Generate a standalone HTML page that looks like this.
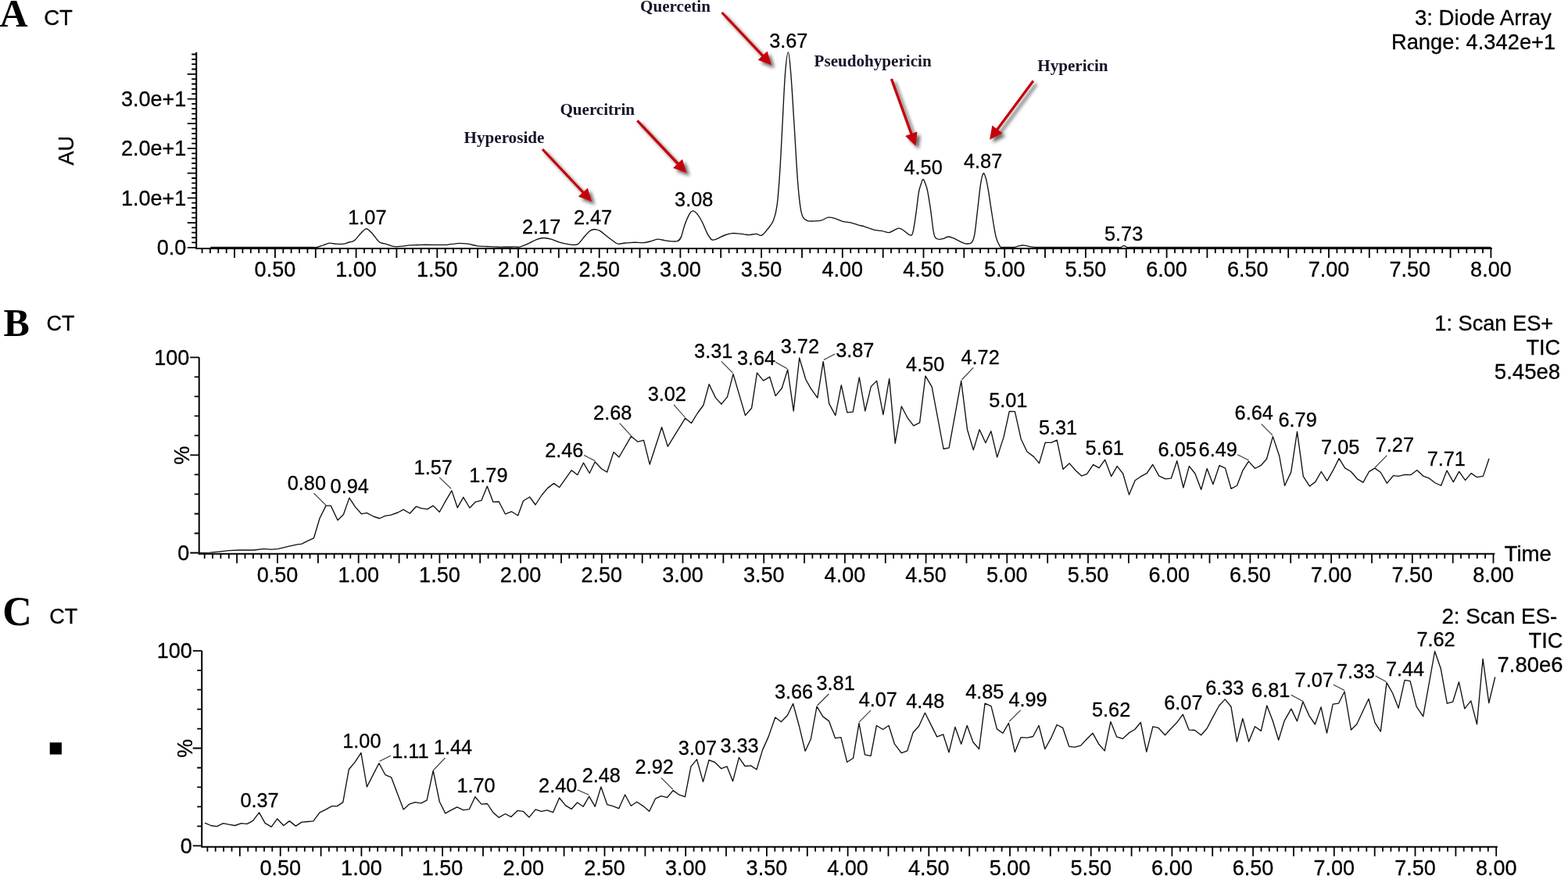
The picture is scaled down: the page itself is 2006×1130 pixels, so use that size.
<!DOCTYPE html>
<html><head><meta charset="utf-8"><title>Chromatograms</title>
<style>html,body{margin:0;padding:0;background:#fff;overflow:hidden}svg{display:block}</style>
</head><body>
<svg width="2006" height="1130" viewBox="0 0 2006 1130">
<defs><filter id="sh" x="-20%" y="-20%" width="150%" height="150%">
<feGaussianBlur in="SourceAlpha" stdDeviation="2.2"/><feOffset dx="3.5" dy="3.5" result="b"/>
<feComponentTransfer><feFuncA type="linear" slope="0.6"/></feComponentTransfer>
<feMerge><feMergeNode/><feMergeNode in="SourceGraphic"/></feMerge></filter></defs>
<style>
.s{font-family:'Liberation Sans',Arial,Helvetica,sans-serif;fill:#000;stroke:#000;stroke-width:0.3px}
.b{font-family:'Liberation Serif','Times New Roman',serif;font-weight:bold;fill:#000}
.n{font-family:'Liberation Serif','Times New Roman',serif;font-weight:bold;fill:#14142a}
.m{text-anchor:middle} .e{text-anchor:end}
</style>
<rect width="2006" height="1130" fill="#fff"/>
<path d="M251.2 66.8V317.9H1909" fill="none" stroke="#000" stroke-width="2.0"/>
<path d="M258.6 317.9L258.6 323.9M268.9 317.9L268.9 323.9M279.3 317.9L279.3 323.9M289.7 317.9L289.7 323.9M300 317.9L300 329.9M310.4 317.9L310.4 323.9M320.8 317.9L320.8 323.9M331.2 317.9L331.2 323.9M341.5 317.9L341.5 323.9M351.9 317.9L351.9 329.9M362.3 317.9L362.3 323.9M372.6 317.9L372.6 323.9M383 317.9L383 323.9M393.4 317.9L393.4 323.9M403.8 317.9L403.8 329.9M414.1 317.9L414.1 323.9M424.5 317.9L424.5 323.9M434.9 317.9L434.9 323.9M445.2 317.9L445.2 323.9M455.6 317.9L455.6 329.9M466 317.9L466 323.9M476.3 317.9L476.3 323.9M486.7 317.9L486.7 323.9M497.1 317.9L497.1 323.9M507.4 317.9L507.4 329.9M517.8 317.9L517.8 323.9M528.2 317.9L528.2 323.9M538.6 317.9L538.6 323.9M548.9 317.9L548.9 323.9M559.3 317.9L559.3 329.9M569.7 317.9L569.7 323.9M580 317.9L580 323.9M590.4 317.9L590.4 323.9M600.8 317.9L600.8 323.9M611.1 317.9L611.1 329.9M621.5 317.9L621.5 323.9M631.9 317.9L631.9 323.9M642.3 317.9L642.3 323.9M652.6 317.9L652.6 323.9M663 317.9L663 329.9M673.4 317.9L673.4 323.9M683.7 317.9L683.7 323.9M694.1 317.9L694.1 323.9M704.5 317.9L704.5 323.9M714.8 317.9L714.8 329.9M725.2 317.9L725.2 323.9M735.6 317.9L735.6 323.9M746 317.9L746 323.9M756.3 317.9L756.3 323.9M766.7 317.9L766.7 329.9M777.1 317.9L777.1 323.9M787.4 317.9L787.4 323.9M797.8 317.9L797.8 323.9M808.2 317.9L808.2 323.9M818.5 317.9L818.5 329.9M828.9 317.9L828.9 323.9M839.3 317.9L839.3 323.9M849.7 317.9L849.7 323.9M860 317.9L860 323.9M870.4 317.9L870.4 329.9M880.8 317.9L880.8 323.9M891.1 317.9L891.1 323.9M901.5 317.9L901.5 323.9M911.9 317.9L911.9 323.9M922.2 317.9L922.2 329.9M932.6 317.9L932.6 323.9M943 317.9L943 323.9M953.4 317.9L953.4 323.9M963.7 317.9L963.7 323.9M974.1 317.9L974.1 329.9M984.5 317.9L984.5 323.9M994.8 317.9L994.8 323.9M1005.2 317.9L1005.2 323.9M1015.6 317.9L1015.6 323.9M1026 317.9L1026 329.9M1036.3 317.9L1036.3 323.9M1046.7 317.9L1046.7 323.9M1057.1 317.9L1057.1 323.9M1067.4 317.9L1067.4 323.9M1077.8 317.9L1077.8 329.9M1088.2 317.9L1088.2 323.9M1098.5 317.9L1098.5 323.9M1108.9 317.9L1108.9 323.9M1119.3 317.9L1119.3 323.9M1129.7 317.9L1129.7 329.9M1140 317.9L1140 323.9M1150.4 317.9L1150.4 323.9M1160.8 317.9L1160.8 323.9M1171.1 317.9L1171.1 323.9M1181.5 317.9L1181.5 329.9M1191.9 317.9L1191.9 323.9M1202.2 317.9L1202.2 323.9M1212.6 317.9L1212.6 323.9M1223 317.9L1223 323.9M1233.3 317.9L1233.3 329.9M1243.7 317.9L1243.7 323.9M1254.1 317.9L1254.1 323.9M1264.5 317.9L1264.5 323.9M1274.8 317.9L1274.8 323.9M1285.2 317.9L1285.2 329.9M1295.6 317.9L1295.6 323.9M1305.9 317.9L1305.9 323.9M1316.3 317.9L1316.3 323.9M1326.7 317.9L1326.7 323.9M1337 317.9L1337 329.9M1347.4 317.9L1347.4 323.9M1357.8 317.9L1357.8 323.9M1368.2 317.9L1368.2 323.9M1378.5 317.9L1378.5 323.9M1388.9 317.9L1388.9 329.9M1399.3 317.9L1399.3 323.9M1409.6 317.9L1409.6 323.9M1420 317.9L1420 323.9M1430.4 317.9L1430.4 323.9M1440.8 317.9L1440.8 329.9M1451.1 317.9L1451.1 323.9M1461.5 317.9L1461.5 323.9M1471.9 317.9L1471.9 323.9M1482.2 317.9L1482.2 323.9M1492.6 317.9L1492.6 329.9M1503 317.9L1503 323.9M1513.3 317.9L1513.3 323.9M1523.7 317.9L1523.7 323.9M1534.1 317.9L1534.1 323.9M1544.4 317.9L1544.4 329.9M1554.8 317.9L1554.8 323.9M1565.2 317.9L1565.2 323.9M1575.6 317.9L1575.6 323.9M1585.9 317.9L1585.9 323.9M1596.3 317.9L1596.3 329.9M1606.7 317.9L1606.7 323.9M1617 317.9L1617 323.9M1627.4 317.9L1627.4 323.9M1637.8 317.9L1637.8 323.9M1648.2 317.9L1648.2 329.9M1658.5 317.9L1658.5 323.9M1668.9 317.9L1668.9 323.9M1679.3 317.9L1679.3 323.9M1689.6 317.9L1689.6 323.9M1700 317.9L1700 329.9M1710.4 317.9L1710.4 323.9M1720.7 317.9L1720.7 323.9M1731.1 317.9L1731.1 323.9M1741.5 317.9L1741.5 323.9M1751.8 317.9L1751.8 329.9M1762.2 317.9L1762.2 323.9M1772.6 317.9L1772.6 323.9M1783 317.9L1783 323.9M1793.3 317.9L1793.3 323.9M1803.7 317.9L1803.7 329.9M1814.1 317.9L1814.1 323.9M1824.4 317.9L1824.4 323.9M1834.8 317.9L1834.8 323.9M1845.2 317.9L1845.2 323.9M1855.6 317.9L1855.6 329.9M1865.9 317.9L1865.9 323.9M1876.3 317.9L1876.3 323.9M1886.7 317.9L1886.7 323.9M1897 317.9L1897 323.9M1907.4 317.9L1907.4 329.9M239.7 316.8L251.2 316.8M245.2 310.4L251.2 310.4M245.2 304.1L251.2 304.1M245.2 297.7L251.2 297.7M245.2 291.4L251.2 291.4M239.7 285.1L251.2 285.1M245.2 278.7L251.2 278.7M245.2 272.4L251.2 272.4M245.2 266L251.2 266M245.2 259.7L251.2 259.7M239.7 253.3L251.2 253.3M245.2 247L251.2 247M245.2 240.7L251.2 240.7M245.2 234.3L251.2 234.3M245.2 228L251.2 228M239.7 221.7L251.2 221.7M245.2 215.3L251.2 215.3M245.2 209L251.2 209M245.2 202.6L251.2 202.6M245.2 196.3L251.2 196.3M239.7 189.9L251.2 189.9M245.2 183.6L251.2 183.6M245.2 177.3L251.2 177.3M245.2 170.9L251.2 170.9M245.2 164.6L251.2 164.6M239.7 158.2L251.2 158.2M245.2 151.9L251.2 151.9M245.2 145.6L251.2 145.6M245.2 139.2L251.2 139.2M245.2 132.9L251.2 132.9M239.7 126.6L251.2 126.6M245.2 120.2L251.2 120.2M245.2 113.9L251.2 113.9M245.2 107.5L251.2 107.5M245.2 101.2L251.2 101.2M239.7 94.8L251.2 94.8M245.2 88.5L251.2 88.5M245.2 82.2L251.2 82.2M245.2 75.8L251.2 75.8M245.2 69.5L251.2 69.5" stroke="#000" stroke-width="1.8" fill="none"/>
<text x="351.9" y="354.3" font-size="27" class="s m">0.50</text>
<text x="455.6" y="354.3" font-size="27" class="s m">1.00</text>
<text x="559.3" y="354.3" font-size="27" class="s m">1.50</text>
<text x="663" y="354.3" font-size="27" class="s m">2.00</text>
<text x="766.7" y="354.3" font-size="27" class="s m">2.50</text>
<text x="870.4" y="354.3" font-size="27" class="s m">3.00</text>
<text x="974.1" y="354.3" font-size="27" class="s m">3.50</text>
<text x="1077.8" y="354.3" font-size="27" class="s m">4.00</text>
<text x="1181.5" y="354.3" font-size="27" class="s m">4.50</text>
<text x="1285.2" y="354.3" font-size="27" class="s m">5.00</text>
<text x="1388.9" y="354.3" font-size="27" class="s m">5.50</text>
<text x="1492.6" y="354.3" font-size="27" class="s m">6.00</text>
<text x="1596.3" y="354.3" font-size="27" class="s m">6.50</text>
<text x="1700" y="354.3" font-size="27" class="s m">7.00</text>
<text x="1803.7" y="354.3" font-size="27" class="s m">7.50</text>
<text x="1907.4" y="354.3" font-size="27" class="s m">8.00</text>
<text x="238.4" y="326.2" font-size="27" class="s e">0.0</text>
<text x="238.4" y="262.9" font-size="27" class="s e">1.0e+1</text>
<text x="238.4" y="199.4" font-size="27" class="s e">2.0e+1</text>
<text x="238.4" y="136.1" font-size="27" class="s e">3.0e+1</text>
<path d="M269.9 316.4C270.9 316.4 274 316.4 276.1 316.4C278.1 316.4 280.2 316.4 282.2 316.4C284.3 316.4 286.3 316.4 288.4 316.4C290.4 316.4 292.5 316.4 294.6 316.4C296.6 316.4 298.7 316.4 300.7 316.4C302.8 316.4 304.8 316.4 306.9 316.4C308.9 316.4 311 316.4 313 316.4C315.1 316.4 317.2 316.4 319.2 316.4C321.3 316.4 323.3 316.4 325.4 316.4C327.4 316.4 329.5 316.4 331.5 316.4C333.6 316.4 335.6 316.4 337.7 316.4C339.8 316.4 341.8 316.4 343.9 316.4C345.9 316.4 348 316.4 350 316.4C352.1 316.4 354.1 316.4 356.2 316.4C358.2 316.4 360.3 316.4 362.4 316.4C364.4 316.4 366.5 316.4 368.5 316.4C370.6 316.4 372.6 316.4 374.7 316.4C376.7 316.4 378.8 316.4 380.8 316.4C382.9 316.4 385 316.4 387 316.4C389.1 316.4 391.1 316.4 393.2 316.4C395.2 316.4 397.3 316.4 399.3 316.4C401.4 316.4 403.1 316.8 405.5 316.4C407.9 316 410.8 314.7 413.5 313.8C416.2 312.9 418.8 311.5 421.5 311.2C424.2 310.9 426.5 312 429.5 312.2C432.5 312.4 436.6 312.6 439.4 312.2C442.2 311.8 444.1 310.7 446.4 310C448.7 309.3 450.9 309.7 453.4 307.8C455.9 305.9 458.9 301.3 461.4 298.8C463.9 296.3 466.1 293 468.4 292.8C470.7 292.6 472.5 295 475.3 297.8C478.1 300.6 482.5 307.5 485.3 309.8C488.1 312.1 490.3 311.2 492.3 311.8C494.3 312.4 495.3 312.8 497.3 313.4C499.3 314 501.2 315.1 504.2 315.4C507.2 315.7 512 315.5 515.2 315.2C518.4 314.9 520.7 314.1 523.2 313.8C525.8 313.5 528.1 313.7 530.5 313.6C532.9 313.5 535.4 313.5 537.8 313.4C540.2 313.3 542.6 313.2 545.1 313.2C547.6 313.2 550.4 313.2 553.1 313.3C555.7 313.3 558.4 313.3 561 313.3C563.7 313.4 566.7 313.5 569 313.4C571.3 313.3 573 313 575 312.7C577 312.5 579 312.3 581 312.1C583 311.8 584 311.4 587 311.4C590 311.4 595 311.6 599 312.2C603 312.8 607.2 314.3 610.9 314.8C614.5 315.3 618.2 315.3 620.9 315.4C623.6 315.5 625.1 315.6 627.3 315.6C629.4 315.7 631.5 315.8 633.6 315.9C635.8 315.9 637.9 316.1 640 316.1C642.1 316.1 644.2 316.1 646.4 316C648.5 316 650.6 316 652.8 316C654.9 315.9 657 315.9 659.1 315.9C661.2 315.9 662.8 316.4 665.5 315.8C668.2 315.2 671.6 313.6 675.1 312.1C678.6 310.6 682.8 307.9 686.3 306.6C689.8 305.3 692.6 304.6 695.8 304.5C699 304.4 702.2 305.3 705.4 306.2C708.6 307.1 711.8 308.8 715 309.8C718.2 310.8 721 311.5 724.5 312.1C728 312.7 733 313.4 735.7 313.3C738.4 313.2 738.4 313.3 740.5 311.4C742.6 309.5 746.1 304.5 748.5 301.8C750.9 299.1 752.9 296.8 754.9 295.4C756.9 294 758.3 293.5 760.4 293.5C762.5 293.5 765.1 294 767.6 295.4C770.1 296.8 772.7 299.5 775.6 301.8C778.5 304.1 782.7 307.3 785.2 309C787.7 310.7 788.3 311.8 790.7 312.1C793.1 312.4 797 311.2 799.5 311C802 310.8 803.8 310.7 805.9 310.6C808 310.5 809.4 310.2 812.3 310.2C815.2 310.2 820.2 310.8 823.4 310.6C826.6 310.4 828.5 309.7 831.4 309C834.3 308.3 838.3 306.5 841 306.2C843.7 305.9 845 306.6 847.4 307C849.8 307.4 852.1 308.2 855.3 308.5C858.5 308.8 863.8 309.5 866.5 308.6C869.2 307.8 869.7 306.9 871.3 303.4C872.9 299.9 874.2 292.4 876.1 287.4C878 282.3 880.8 276 882.5 273.1C884.2 270.2 884.9 269.8 886.5 269.9C888.1 270 890 271.5 892 273.9C894 276.3 896.3 280.1 898.4 284.2C900.5 288.3 902.8 294.9 904.8 298.6C906.8 302.3 908.5 305.3 910.4 306.6C912.3 307.9 913.2 307.1 916 306.2C918.8 305.3 923.6 302.3 927.1 301C930.6 299.7 933.5 298.9 936.7 298.6C939.9 298.3 943.7 298.9 946.3 299.1C948.9 299.3 950.3 299.6 952.3 299.9C954.4 300.1 955.9 300.7 958.4 300.6C960.9 300.5 964.9 299.3 967.6 299.4C970.3 299.5 972 302.3 974.5 301.2C977 300.1 980.1 295.7 982.6 292.5C985.1 289.3 987.6 287.1 989.5 282.1C991.4 277.1 992.8 272.8 994.1 262.6C995.5 252.4 996.5 238.4 997.6 221.1C998.8 203.8 999.9 180.1 1001 159C1002.1 137.9 1003.3 109.8 1004.5 94.5C1005.7 79.2 1007.2 66.9 1008.4 66.9C1009.6 66.9 1010.5 79.2 1011.8 94.5C1013.1 109.8 1014.5 136 1016 159C1017.5 182 1019.1 213.9 1020.6 232.7C1022.1 251.5 1023.3 263.6 1025.2 271.8C1027.1 280 1029.4 280.3 1032.1 282.1C1034.8 283.9 1038.2 282.8 1041.3 282.8C1044.4 282.8 1047.4 282.9 1050.5 282.1C1053.6 281.3 1056.6 278.6 1059.7 278.2C1062.8 277.8 1065.8 278.9 1068.9 279.8C1072 280.7 1074.6 282.4 1078.1 283.3C1081.6 284.2 1086.7 284.5 1090 285.3C1093.3 286.1 1095.2 287.1 1097.8 287.9C1100.4 288.6 1103.2 289.1 1105.6 289.8C1108 290.5 1109.9 291.3 1112 292.1C1114.2 292.8 1115.7 293.7 1118.5 294.3C1121.3 294.9 1125.8 295.1 1128.9 295.6C1132 296.2 1134.7 297.8 1137.3 297.6C1139.9 297.4 1142.2 295.2 1144.4 294.3C1146.6 293.4 1148.3 292 1150.3 292.1C1152.2 292.2 1153.8 293.6 1156.1 295C1158.4 296.4 1162 300.4 1163.9 300.8C1165.9 301.2 1166.5 302 1167.8 297.6C1169.1 293.2 1170.4 283 1171.7 274.3C1173 265.6 1174.3 252.4 1175.5 245.7C1176.7 239 1177.9 236.8 1178.8 234.1C1179.7 231.4 1180.2 229.3 1181.1 229.5C1182 229.7 1183.1 232.9 1184 235.4C1184.9 237.9 1185.5 239 1186.6 244.4C1187.7 249.8 1189.1 258.5 1190.5 267.8C1191.9 277.1 1193.4 293.8 1195 300.2C1196.6 306.6 1198.2 305.1 1200.2 306C1202.2 306.9 1204.6 305.9 1206.7 305.4C1208.8 304.9 1210.9 303.1 1213.1 303C1215.2 302.9 1217.2 303.8 1219.6 304.7C1222 305.6 1224.8 307.4 1227.4 308.6C1230 309.8 1232.6 311.5 1235.2 311.8C1237.8 312.1 1241.1 312.4 1243 310.5C1244.9 308.6 1245.5 307.3 1246.8 300.2C1248.1 293.1 1249.4 278.6 1250.7 267.8C1252 257 1253.4 243 1254.6 235.4C1255.8 227.8 1256.8 223.4 1257.9 222.1C1259 220.8 1260 224.1 1261.1 227.6C1262.2 231.1 1263 235.5 1264.3 243.1C1265.6 250.7 1267.3 263.1 1268.9 273C1270.5 282.9 1272.4 295.8 1274.1 302.8C1275.8 309.8 1277.9 312.8 1279.2 315.1C1280.5 317.4 1280.1 316.2 1281.8 316.4C1283.5 316.6 1287 316.4 1289.6 316.4C1292.2 316.4 1295 316.7 1297.4 316.4C1299.8 316.1 1302 315.1 1303.9 314.7C1305.9 314.3 1307.2 313.7 1309.1 313.8C1311 313.9 1313.1 314.7 1315.5 315.1C1317.9 315.5 1321 316.2 1323.3 316.4C1325.6 316.6 1327.4 316.4 1329.5 316.4C1331.5 316.4 1333.5 316.4 1335.6 316.4C1337.6 316.4 1339.7 316.4 1341.8 316.4C1343.8 316.4 1345.8 316.4 1347.9 316.4C1349.9 316.4 1352 316.4 1354 316.4C1356.1 316.4 1358.2 316.4 1360.2 316.4C1362.2 316.4 1364.3 316.4 1366.3 316.4C1368.4 316.4 1370.5 316.4 1372.5 316.4C1374.5 316.4 1376.6 316.4 1378.7 316.4C1380.7 316.4 1382.8 316.4 1384.8 316.4C1386.8 316.4 1388.9 316.4 1391 316.4C1393 316.4 1395 316.4 1397.1 316.4C1399.1 316.4 1401.2 316.4 1403.2 316.4C1405.3 316.4 1407.4 316.4 1409.4 316.4C1411.5 316.4 1413.5 316.4 1415.5 316.4C1417.6 316.4 1419.7 316.4 1421.7 316.4C1423.8 316.4 1425.8 316.4 1427.8 316.4C1429.9 316.4 1432.3 316.8 1434 316.4C1435.7 316 1436.6 314.3 1437.9 314.3C1439.2 314.3 1440.1 316 1441.7 316.4C1443.3 316.8 1445.7 316.4 1447.7 316.4C1449.8 316.4 1451.8 316.4 1453.8 316.4C1455.8 316.4 1457.8 316.4 1459.8 316.4C1461.8 316.4 1463.9 316.4 1465.9 316.4C1467.9 316.4 1469.9 316.4 1471.9 316.4C1473.9 316.4 1475.9 316.4 1478 316.4C1480 316.4 1482 316.4 1484 316.4C1486 316.4 1488 316.4 1490 316.4C1492.1 316.4 1494.1 316.4 1496.1 316.4C1498.1 316.4 1500.1 316.4 1502.1 316.4C1504.1 316.4 1506.2 316.4 1508.2 316.4C1510.2 316.4 1512.2 316.4 1514.2 316.4C1516.2 316.4 1518.2 316.4 1520.3 316.4C1522.3 316.4 1524.3 316.4 1526.3 316.4C1528.3 316.4 1530.3 316.4 1532.3 316.4C1534.4 316.4 1536.4 316.4 1538.4 316.4C1540.4 316.4 1542.4 316.4 1544.4 316.4C1546.4 316.4 1548.5 316.4 1550.5 316.4C1552.5 316.4 1554.5 316.4 1556.5 316.4C1558.5 316.4 1560.5 316.4 1562.6 316.4C1564.6 316.4 1566.6 316.4 1568.6 316.4C1570.6 316.4 1572.6 316.4 1574.6 316.4C1576.7 316.4 1578.7 316.4 1580.7 316.4C1582.7 316.4 1584.7 316.4 1586.7 316.4C1588.7 316.4 1590.8 316.4 1592.8 316.4C1594.8 316.4 1596.8 316.4 1598.8 316.4C1600.8 316.4 1602.8 316.4 1604.9 316.4C1606.9 316.4 1608.9 316.4 1610.9 316.4C1612.9 316.4 1614.9 316.4 1616.9 316.4C1619 316.4 1621 316.4 1623 316.4C1625 316.4 1627 316.4 1629 316.4C1631 316.4 1633.1 316.4 1635.1 316.4C1637.1 316.4 1639.1 316.4 1641.1 316.4C1643.1 316.4 1645.1 316.4 1647.2 316.4C1649.2 316.4 1651.2 316.4 1653.2 316.4C1655.2 316.4 1657.2 316.4 1659.2 316.4C1661.3 316.4 1663.3 316.4 1665.3 316.4C1667.3 316.4 1669.3 316.4 1671.3 316.4C1673.3 316.4 1675.4 316.4 1677.4 316.4C1679.4 316.4 1681.4 316.4 1683.4 316.4C1685.4 316.4 1687.4 316.4 1689.5 316.4C1691.5 316.4 1693.5 316.4 1695.5 316.4C1697.5 316.4 1699.5 316.4 1701.5 316.4C1703.6 316.4 1705.6 316.4 1707.6 316.4C1709.6 316.4 1711.6 316.4 1713.6 316.4C1715.6 316.4 1717.7 316.4 1719.7 316.4C1721.7 316.4 1723.7 316.4 1725.7 316.4C1727.7 316.4 1729.7 316.4 1731.8 316.4C1733.8 316.4 1735.8 316.4 1737.8 316.4C1739.8 316.4 1741.8 316.4 1743.8 316.4C1745.9 316.4 1747.9 316.4 1749.9 316.4C1751.9 316.4 1753.9 316.4 1755.9 316.4C1757.9 316.4 1760 316.4 1762 316.4C1764 316.4 1766 316.4 1768 316.4C1770 316.4 1772 316.4 1774.1 316.4C1776.1 316.4 1778.1 316.4 1780.1 316.4C1782.1 316.4 1784.1 316.4 1786.1 316.4C1788.2 316.4 1790.2 316.4 1792.2 316.4C1794.2 316.4 1796.2 316.4 1798.2 316.4C1800.2 316.4 1802.3 316.4 1804.3 316.4C1806.3 316.4 1808.3 316.4 1810.3 316.4C1812.3 316.4 1814.3 316.4 1816.4 316.4C1818.4 316.4 1820.4 316.4 1822.4 316.4C1824.4 316.4 1826.4 316.4 1828.4 316.4C1830.5 316.4 1832.5 316.4 1834.5 316.4C1836.5 316.4 1838.5 316.4 1840.5 316.4C1842.5 316.4 1844.6 316.4 1846.6 316.4C1848.6 316.4 1850.6 316.4 1852.6 316.4C1854.6 316.4 1856.6 316.4 1858.7 316.4C1860.7 316.4 1862.7 316.4 1864.7 316.4C1866.7 316.4 1868.7 316.4 1870.7 316.4C1872.8 316.4 1874.8 316.4 1876.8 316.4C1878.8 316.4 1880.8 316.4 1882.8 316.4C1884.8 316.4 1886.9 316.4 1888.9 316.4C1890.9 316.4 1892.9 316.4 1894.9 316.4C1896.9 316.4 1898.9 316.4 1901 316.4C1903 316.4 1906 316.4 1907 316.4" fill="none" stroke="#111" stroke-width="1.35" stroke-linejoin="round" stroke-linecap="round"/>
<path d="M254.7 457.3V708.8H1912.4" fill="none" stroke="#000" stroke-width="2.0"/>
<path d="M261.7 708.8L261.7 714.8M272 708.8L272 714.8M282.4 708.8L282.4 714.8M292.8 708.8L292.8 714.8M303.1 708.8L303.1 720.8M313.5 708.8L313.5 714.8M323.9 708.8L323.9 714.8M334.3 708.8L334.3 714.8M344.6 708.8L344.6 714.8M355 708.8L355 720.8M365.4 708.8L365.4 714.8M375.7 708.8L375.7 714.8M386.1 708.8L386.1 714.8M396.5 708.8L396.5 714.8M406.9 708.8L406.9 720.8M417.2 708.8L417.2 714.8M427.6 708.8L427.6 714.8M438 708.8L438 714.8M448.3 708.8L448.3 714.8M458.7 708.8L458.7 720.8M469.1 708.8L469.1 714.8M479.4 708.8L479.4 714.8M489.8 708.8L489.8 714.8M500.2 708.8L500.2 714.8M510.6 708.8L510.6 720.8M520.9 708.8L520.9 714.8M531.3 708.8L531.3 714.8M541.7 708.8L541.7 714.8M552 708.8L552 714.8M562.4 708.8L562.4 720.8M572.8 708.8L572.8 714.8M583.1 708.8L583.1 714.8M593.5 708.8L593.5 714.8M603.9 708.8L603.9 714.8M614.2 708.8L614.2 720.8M624.6 708.8L624.6 714.8M635 708.8L635 714.8M645.4 708.8L645.4 714.8M655.7 708.8L655.7 714.8M666.1 708.8L666.1 720.8M676.5 708.8L676.5 714.8M686.8 708.8L686.8 714.8M697.2 708.8L697.2 714.8M707.6 708.8L707.6 714.8M718 708.8L718 720.8M728.3 708.8L728.3 714.8M738.7 708.8L738.7 714.8M749.1 708.8L749.1 714.8M759.4 708.8L759.4 714.8M769.8 708.8L769.8 720.8M780.2 708.8L780.2 714.8M790.5 708.8L790.5 714.8M800.9 708.8L800.9 714.8M811.3 708.8L811.3 714.8M821.7 708.8L821.7 720.8M832 708.8L832 714.8M842.4 708.8L842.4 714.8M852.8 708.8L852.8 714.8M863.1 708.8L863.1 714.8M873.5 708.8L873.5 720.8M883.9 708.8L883.9 714.8M894.2 708.8L894.2 714.8M904.6 708.8L904.6 714.8M915 708.8L915 714.8M925.4 708.8L925.4 720.8M935.7 708.8L935.7 714.8M946.1 708.8L946.1 714.8M956.5 708.8L956.5 714.8M966.8 708.8L966.8 714.8M977.2 708.8L977.2 720.8M987.6 708.8L987.6 714.8M997.9 708.8L997.9 714.8M1008.3 708.8L1008.3 714.8M1018.7 708.8L1018.7 714.8M1029.1 708.8L1029.1 720.8M1039.4 708.8L1039.4 714.8M1049.8 708.8L1049.8 714.8M1060.2 708.8L1060.2 714.8M1070.5 708.8L1070.5 714.8M1080.9 708.8L1080.9 720.8M1091.3 708.8L1091.3 714.8M1101.6 708.8L1101.6 714.8M1112 708.8L1112 714.8M1122.4 708.8L1122.4 714.8M1132.8 708.8L1132.8 720.8M1143.1 708.8L1143.1 714.8M1153.5 708.8L1153.5 714.8M1163.9 708.8L1163.9 714.8M1174.2 708.8L1174.2 714.8M1184.6 708.8L1184.6 720.8M1195 708.8L1195 714.8M1205.3 708.8L1205.3 714.8M1215.7 708.8L1215.7 714.8M1226.1 708.8L1226.1 714.8M1236.5 708.8L1236.5 720.8M1246.8 708.8L1246.8 714.8M1257.2 708.8L1257.2 714.8M1267.6 708.8L1267.6 714.8M1277.9 708.8L1277.9 714.8M1288.3 708.8L1288.3 720.8M1298.7 708.8L1298.7 714.8M1309 708.8L1309 714.8M1319.4 708.8L1319.4 714.8M1329.8 708.8L1329.8 714.8M1340.2 708.8L1340.2 720.8M1350.5 708.8L1350.5 714.8M1360.9 708.8L1360.9 714.8M1371.3 708.8L1371.3 714.8M1381.6 708.8L1381.6 714.8M1392 708.8L1392 720.8M1402.4 708.8L1402.4 714.8M1412.7 708.8L1412.7 714.8M1423.1 708.8L1423.1 714.8M1433.5 708.8L1433.5 714.8M1443.9 708.8L1443.9 720.8M1454.2 708.8L1454.2 714.8M1464.6 708.8L1464.6 714.8M1475 708.8L1475 714.8M1485.3 708.8L1485.3 714.8M1495.7 708.8L1495.7 720.8M1506.1 708.8L1506.1 714.8M1516.4 708.8L1516.4 714.8M1526.8 708.8L1526.8 714.8M1537.2 708.8L1537.2 714.8M1547.5 708.8L1547.5 720.8M1557.9 708.8L1557.9 714.8M1568.3 708.8L1568.3 714.8M1578.7 708.8L1578.7 714.8M1589 708.8L1589 714.8M1599.4 708.8L1599.4 720.8M1609.8 708.8L1609.8 714.8M1620.1 708.8L1620.1 714.8M1630.5 708.8L1630.5 714.8M1640.9 708.8L1640.9 714.8M1651.2 708.8L1651.2 720.8M1661.6 708.8L1661.6 714.8M1672 708.8L1672 714.8M1682.4 708.8L1682.4 714.8M1692.7 708.8L1692.7 714.8M1703.1 708.8L1703.1 720.8M1713.5 708.8L1713.5 714.8M1723.8 708.8L1723.8 714.8M1734.2 708.8L1734.2 714.8M1744.6 708.8L1744.6 714.8M1755 708.8L1755 720.8M1765.3 708.8L1765.3 714.8M1775.7 708.8L1775.7 714.8M1786.1 708.8L1786.1 714.8M1796.4 708.8L1796.4 714.8M1806.8 708.8L1806.8 720.8M1817.2 708.8L1817.2 714.8M1827.5 708.8L1827.5 714.8M1837.9 708.8L1837.9 714.8M1848.3 708.8L1848.3 714.8M1858.7 708.8L1858.7 720.8M1869 708.8L1869 714.8M1879.4 708.8L1879.4 714.8M1889.8 708.8L1889.8 714.8M1900.1 708.8L1900.1 714.8M1910.5 708.8L1910.5 720.8M243.2 707.5L254.7 707.5M248.7 682.5L254.7 682.5M248.7 657.5L254.7 657.5M248.7 632.4L254.7 632.4M248.7 607.4L254.7 607.4M243.2 582.4L254.7 582.4M248.7 557.4L254.7 557.4M248.7 532.4L254.7 532.4M248.7 507.3L254.7 507.3M248.7 482.3L254.7 482.3M243.2 457.3L254.7 457.3" stroke="#000" stroke-width="1.8" fill="none"/>
<text x="355" y="745.1" font-size="27" class="s m">0.50</text>
<text x="458.7" y="745.1" font-size="27" class="s m">1.00</text>
<text x="562.4" y="745.1" font-size="27" class="s m">1.50</text>
<text x="666.1" y="745.1" font-size="27" class="s m">2.00</text>
<text x="769.8" y="745.1" font-size="27" class="s m">2.50</text>
<text x="873.5" y="745.1" font-size="27" class="s m">3.00</text>
<text x="977.2" y="745.1" font-size="27" class="s m">3.50</text>
<text x="1080.9" y="745.1" font-size="27" class="s m">4.00</text>
<text x="1184.6" y="745.1" font-size="27" class="s m">4.50</text>
<text x="1288.3" y="745.1" font-size="27" class="s m">5.00</text>
<text x="1392" y="745.1" font-size="27" class="s m">5.50</text>
<text x="1495.7" y="745.1" font-size="27" class="s m">6.00</text>
<text x="1599.4" y="745.1" font-size="27" class="s m">6.50</text>
<text x="1703.1" y="745.1" font-size="27" class="s m">7.00</text>
<text x="1806.8" y="745.1" font-size="27" class="s m">7.50</text>
<text x="1910.5" y="745.1" font-size="27" class="s m">8.00</text>
<text x="242.3" y="717" font-size="27" class="s e">0</text>
<text x="242.3" y="466.8" font-size="27" class="s e">100</text>
<path d="M255 707.4 L268.7 707.1 L281.2 705.9 L292.4 704.7 L306.1 704 L324.8 704 L337.2 702.4 L347.2 703.2 L355.9 702.4 L368.4 699.4 L380.9 696.6 L385.8 696.2 L393.3 692.4 L401.4 688.7 L405.2 676 L408.9 663.5 L417 647.1 L423.2 647.1 L432 665.8 L439.4 658.5 L446.9 637.1 L454.4 648.6 L462.5 657.7 L469.3 656.4 L478.1 661 L485.5 663.5 L493 660.2 L500 659.1 L508.7 656 L516.2 652.2 L524.3 657 L532.4 648.2 L538.6 650.4 L546.7 651.6 L554.2 647.2 L562.3 655.3 L569.8 641.6 L577.9 627.9 L585.3 649.7 L592.8 636.3 L600.9 650 L608.4 642.3 L615.9 640.4 L623.3 622.3 L630.8 642.3 L638.3 642 L646.4 657.8 L654.5 654.7 L662.6 659.7 L669.5 641 L677.6 636 L685 646 L693.1 633.5 L700.9 624.4 L708.6 618.6 L715.7 623.7 L731.1 601.9 L738.8 607.7 L746.5 592.3 L754.2 605.5 L761.2 591 L769.6 600 L776.6 604.2 L785 578.6 L792 585 L807.4 558.3 L815.8 565.3 L823.5 563.4 L831.2 594.2 L846.6 546.7 L854.3 571.4 L876.7 535.2 L884.4 541.6 L892.5 528.5 L899.9 518.5 L907.2 491.7 L915.5 509.1 L923 517.2 L930.5 507.9 L938 478.6 L953.5 531.6 L961.6 522.2 L968.5 477.1 L976.6 487.1 L984.7 482.3 L992.2 506.6 L1000.3 496.7 L1007.7 473 L1015.2 526 L1022.7 458 L1030.8 485.5 L1037 496.7 L1045.8 509.1 L1053.2 462.7 L1060.7 516.6 L1068.8 531.6 L1076.3 492.9 L1083.8 527.8 L1091.2 527.2 L1099.3 483 L1106.8 526 L1114.3 494.8 L1121.6 487.4 L1129.9 530.6 L1137.7 484.6 L1145.2 567.4 L1153.3 520 L1161.1 534.8 L1168.8 544.8 L1176.6 540.8 L1184 481.1 L1192.2 495.2 L1207.1 574.5 L1214.1 573.1 L1229.7 487.4 L1237.5 549.7 L1245.3 575.9 L1253.1 549.7 L1260.9 566.7 L1267.9 551.8 L1275.7 585.1 L1284.2 558.9 L1291.3 526.4 L1298.4 526.6 L1306.2 561.7 L1313.9 578 L1322.4 584.4 L1329.5 592.9 L1337.3 566.3 L1345.1 566.4 L1352.2 563.2 L1360 600.5 L1368.1 592.9 L1376.2 602.2 L1383.7 609.1 L1390.5 606.6 L1398.6 594.7 L1406.1 598.9 L1413.6 588.3 L1421.7 609.7 L1429.2 596.6 L1436.6 606 L1444.5 633.1 L1452.2 614.7 L1459.7 609.7 L1467.2 605.7 L1474.7 594.5 L1482.8 609.1 L1490.9 612.8 L1498.3 612.2 L1505.8 589.8 L1513.9 624 L1521.4 596.6 L1528.9 606 L1536.7 626.5 L1544.2 599.7 L1551.9 619.7 L1560 595.7 L1567.5 599.1 L1575 625.3 L1582.5 621.5 L1589.9 602.2 L1597.4 590.4 L1605.6 599.5 L1613.1 595.7 L1620.5 587.3 L1628.4 558.6 L1636.7 583.5 L1643.6 621.5 L1651.7 604.1 L1659.5 552.4 L1667.3 609.7 L1675.4 622.2 L1682.8 616.6 L1690.3 603.5 L1697.8 615.3 L1705.3 602.2 L1713.1 586.6 L1720.6 598.9 L1728.3 603.5 L1736.4 612.8 L1743.9 617.4 L1751.4 603.7 L1758.9 599.1 L1766.3 604.5 L1774.4 618.4 L1782.6 608.6 L1789 609.4 L1797.9 607.3 L1804.7 607.7 L1812.9 601.7 L1821.1 609.4 L1827.9 611.8 L1836.1 618 L1843.6 621.5 L1851 602.2 L1859.3 616.8 L1866.7 603.4 L1874.6 614.6 L1882.1 605.6 L1889.5 610.7 L1897.4 609.4 L1904.9 587.3" fill="none" stroke="#111" stroke-width="1.35" stroke-linejoin="round" stroke-linecap="round"/>
<path d="M258.2 832.8V1083.7H1915.8" fill="none" stroke="#000" stroke-width="2.0"/>
<path d="M265.4 1083.7L265.4 1089.7M275.7 1083.7L275.7 1089.7M286.1 1083.7L286.1 1089.7M296.5 1083.7L296.5 1089.7M306.8 1083.7L306.8 1095.7M317.2 1083.7L317.2 1089.7M327.6 1083.7L327.6 1089.7M338 1083.7L338 1089.7M348.3 1083.7L348.3 1089.7M358.7 1083.7L358.7 1095.7M369.1 1083.7L369.1 1089.7M379.4 1083.7L379.4 1089.7M389.8 1083.7L389.8 1089.7M400.2 1083.7L400.2 1089.7M410.6 1083.7L410.6 1095.7M420.9 1083.7L420.9 1089.7M431.3 1083.7L431.3 1089.7M441.7 1083.7L441.7 1089.7M452 1083.7L452 1089.7M462.4 1083.7L462.4 1095.7M472.8 1083.7L472.8 1089.7M483.1 1083.7L483.1 1089.7M493.5 1083.7L493.5 1089.7M503.9 1083.7L503.9 1089.7M514.2 1083.7L514.2 1095.7M524.6 1083.7L524.6 1089.7M535 1083.7L535 1089.7M545.4 1083.7L545.4 1089.7M555.7 1083.7L555.7 1089.7M566.1 1083.7L566.1 1095.7M576.5 1083.7L576.5 1089.7M586.8 1083.7L586.8 1089.7M597.2 1083.7L597.2 1089.7M607.6 1083.7L607.6 1089.7M618 1083.7L618 1095.7M628.3 1083.7L628.3 1089.7M638.7 1083.7L638.7 1089.7M649.1 1083.7L649.1 1089.7M659.4 1083.7L659.4 1089.7M669.8 1083.7L669.8 1095.7M680.2 1083.7L680.2 1089.7M690.5 1083.7L690.5 1089.7M700.9 1083.7L700.9 1089.7M711.3 1083.7L711.3 1089.7M721.6 1083.7L721.6 1095.7M732 1083.7L732 1089.7M742.4 1083.7L742.4 1089.7M752.8 1083.7L752.8 1089.7M763.1 1083.7L763.1 1089.7M773.5 1083.7L773.5 1095.7M783.9 1083.7L783.9 1089.7M794.2 1083.7L794.2 1089.7M804.6 1083.7L804.6 1089.7M815 1083.7L815 1089.7M825.4 1083.7L825.4 1095.7M835.7 1083.7L835.7 1089.7M846.1 1083.7L846.1 1089.7M856.5 1083.7L856.5 1089.7M866.8 1083.7L866.8 1089.7M877.2 1083.7L877.2 1095.7M887.6 1083.7L887.6 1089.7M897.9 1083.7L897.9 1089.7M908.3 1083.7L908.3 1089.7M918.7 1083.7L918.7 1089.7M929 1083.7L929 1095.7M939.4 1083.7L939.4 1089.7M949.8 1083.7L949.8 1089.7M960.2 1083.7L960.2 1089.7M970.5 1083.7L970.5 1089.7M980.9 1083.7L980.9 1095.7M991.3 1083.7L991.3 1089.7M1001.6 1083.7L1001.6 1089.7M1012 1083.7L1012 1089.7M1022.4 1083.7L1022.4 1089.7M1032.8 1083.7L1032.8 1095.7M1043.1 1083.7L1043.1 1089.7M1053.5 1083.7L1053.5 1089.7M1063.9 1083.7L1063.9 1089.7M1074.2 1083.7L1074.2 1089.7M1084.6 1083.7L1084.6 1095.7M1095 1083.7L1095 1089.7M1105.3 1083.7L1105.3 1089.7M1115.7 1083.7L1115.7 1089.7M1126.1 1083.7L1126.1 1089.7M1136.5 1083.7L1136.5 1095.7M1146.8 1083.7L1146.8 1089.7M1157.2 1083.7L1157.2 1089.7M1167.6 1083.7L1167.6 1089.7M1177.9 1083.7L1177.9 1089.7M1188.3 1083.7L1188.3 1095.7M1198.7 1083.7L1198.7 1089.7M1209 1083.7L1209 1089.7M1219.4 1083.7L1219.4 1089.7M1229.8 1083.7L1229.8 1089.7M1240.2 1083.7L1240.2 1095.7M1250.5 1083.7L1250.5 1089.7M1260.9 1083.7L1260.9 1089.7M1271.3 1083.7L1271.3 1089.7M1281.6 1083.7L1281.6 1089.7M1292 1083.7L1292 1095.7M1302.4 1083.7L1302.4 1089.7M1312.7 1083.7L1312.7 1089.7M1323.1 1083.7L1323.1 1089.7M1333.5 1083.7L1333.5 1089.7M1343.8 1083.7L1343.8 1095.7M1354.2 1083.7L1354.2 1089.7M1364.6 1083.7L1364.6 1089.7M1375 1083.7L1375 1089.7M1385.3 1083.7L1385.3 1089.7M1395.7 1083.7L1395.7 1095.7M1406.1 1083.7L1406.1 1089.7M1416.4 1083.7L1416.4 1089.7M1426.8 1083.7L1426.8 1089.7M1437.2 1083.7L1437.2 1089.7M1447.6 1083.7L1447.6 1095.7M1457.9 1083.7L1457.9 1089.7M1468.3 1083.7L1468.3 1089.7M1478.7 1083.7L1478.7 1089.7M1489 1083.7L1489 1089.7M1499.4 1083.7L1499.4 1095.7M1509.8 1083.7L1509.8 1089.7M1520.1 1083.7L1520.1 1089.7M1530.5 1083.7L1530.5 1089.7M1540.9 1083.7L1540.9 1089.7M1551.2 1083.7L1551.2 1095.7M1561.6 1083.7L1561.6 1089.7M1572 1083.7L1572 1089.7M1582.4 1083.7L1582.4 1089.7M1592.7 1083.7L1592.7 1089.7M1603.1 1083.7L1603.1 1095.7M1613.5 1083.7L1613.5 1089.7M1623.8 1083.7L1623.8 1089.7M1634.2 1083.7L1634.2 1089.7M1644.6 1083.7L1644.6 1089.7M1655 1083.7L1655 1095.7M1665.3 1083.7L1665.3 1089.7M1675.7 1083.7L1675.7 1089.7M1686.1 1083.7L1686.1 1089.7M1696.4 1083.7L1696.4 1089.7M1706.8 1083.7L1706.8 1095.7M1717.2 1083.7L1717.2 1089.7M1727.5 1083.7L1727.5 1089.7M1737.9 1083.7L1737.9 1089.7M1748.3 1083.7L1748.3 1089.7M1758.7 1083.7L1758.7 1095.7M1769 1083.7L1769 1089.7M1779.4 1083.7L1779.4 1089.7M1789.8 1083.7L1789.8 1089.7M1800.1 1083.7L1800.1 1089.7M1810.5 1083.7L1810.5 1095.7M1820.9 1083.7L1820.9 1089.7M1831.2 1083.7L1831.2 1089.7M1841.6 1083.7L1841.6 1089.7M1852 1083.7L1852 1089.7M1862.4 1083.7L1862.4 1095.7M1872.7 1083.7L1872.7 1089.7M1883.1 1083.7L1883.1 1089.7M1893.5 1083.7L1893.5 1089.7M1903.8 1083.7L1903.8 1089.7M1914.2 1083.7L1914.2 1095.7M246.7 1082.3L258.2 1082.3M252.2 1057.3L258.2 1057.3M252.2 1032.4L258.2 1032.4M252.2 1007.4L258.2 1007.4M252.2 982.5L258.2 982.5M246.7 957.5L258.2 957.5M252.2 932.6L258.2 932.6M252.2 907.6L258.2 907.6M252.2 882.7L258.2 882.7M252.2 857.8L258.2 857.8M246.7 832.8L258.2 832.8" stroke="#000" stroke-width="1.8" fill="none"/>
<text x="358.7" y="1120.1" font-size="27" class="s m">0.50</text>
<text x="462.4" y="1120.1" font-size="27" class="s m">1.00</text>
<text x="566.1" y="1120.1" font-size="27" class="s m">1.50</text>
<text x="669.8" y="1120.1" font-size="27" class="s m">2.00</text>
<text x="773.5" y="1120.1" font-size="27" class="s m">2.50</text>
<text x="877.2" y="1120.1" font-size="27" class="s m">3.00</text>
<text x="980.9" y="1120.1" font-size="27" class="s m">3.50</text>
<text x="1084.6" y="1120.1" font-size="27" class="s m">4.00</text>
<text x="1188.3" y="1120.1" font-size="27" class="s m">4.50</text>
<text x="1292" y="1120.1" font-size="27" class="s m">5.00</text>
<text x="1395.7" y="1120.1" font-size="27" class="s m">5.50</text>
<text x="1499.4" y="1120.1" font-size="27" class="s m">6.00</text>
<text x="1603.1" y="1120.1" font-size="27" class="s m">6.50</text>
<text x="1706.8" y="1120.1" font-size="27" class="s m">7.00</text>
<text x="1810.5" y="1120.1" font-size="27" class="s m">7.50</text>
<text x="1914.2" y="1120.1" font-size="27" class="s m">8.00</text>
<text x="245.8" y="1091.8" font-size="27" class="s e">0</text>
<text x="245.8" y="842.3" font-size="27" class="s e">100</text>
<path d="M262.5 1053.4 L270 1056.5 L277.4 1057.7 L285.5 1053.6 L293 1055.2 L300.5 1056.5 L308.6 1053.6 L316.1 1054.4 L323.5 1050.3 L331.6 1039.9 L339.1 1053.4 L347.2 1058.1 L354.7 1047.8 L362.8 1056.5 L370.3 1050.6 L378.4 1057.1 L385.9 1052.1 L393.3 1051.5 L400.8 1050.9 L408.9 1039.9 L417 1035.9 L424.5 1031.6 L431.3 1031.6 L438.8 1026.6 L446.3 984.8 L454.4 974.9 L461.9 963.4 L469.4 1007 L477.5 991.1 L484.9 976.7 L493 991.7 L500.6 994.8 L508.1 1014.7 L516.2 1035.9 L523.7 1029.1 L531.1 1026.6 L538.6 1027.8 L546.1 1024.1 L554.2 986.1 L562.3 1026 L569.8 1040.9 L577.3 1036.6 L584.7 1032.8 L592.8 1036.6 L600.3 1035.7 L607.8 1019.7 L615.9 1029.1 L623.4 1028.5 L630.8 1039.7 L638.3 1046.2 L646.4 1041.5 L653.9 1045.3 L662 1037.4 L669.5 1038.4 L677 1045.9 L685.1 1035.9 L692.5 1038.4 L700 1036.9 L707.5 1039.7 L715.6 1021 L723.7 1030.9 L731.2 1035.3 L738.6 1027 L746.2 1032.2 L753.7 1019.1 L761.2 1032.2 L768.9 1007 L776.8 1029.7 L784.2 1031.6 L791.7 1034.7 L799.6 1017 L807.3 1031.2 L814.8 1026.2 L822.9 1031.6 L830.7 1038.2 L838.4 1022.2 L845.9 1018.7 L853.4 1020.7 L861.1 1011.6 L869 1017.2 L876.4 1019.7 L883.9 981.1 L891.4 971.8 L899.5 1000.4 L907 972.7 L914.5 975.5 L922.6 983.6 L930 980.8 L937.5 999.8 L945.4 969.3 L953.1 980.5 L960.6 979.9 L968 984.8 L975.5 959.9 L983.1 942.9 L991.8 918 L999.3 923.8 L1007.4 915.5 L1014.6 900.5 L1022.4 929.2 L1030.1 961.2 L1037.3 946 L1045 904.2 L1052.9 917.1 L1060.7 922.9 L1068.5 944.7 L1075.9 943.7 L1083.7 975.3 L1091.5 970.3 L1099 925.4 L1106.5 965.9 L1114 967.4 L1121.4 928.5 L1129.5 933.5 L1137 928.5 L1144.5 952.2 L1153.2 963.7 L1160.7 960.9 L1168.2 937.3 L1175.6 929.2 L1183.4 912.3 L1191.2 927.9 L1198.7 942.9 L1206.6 939.8 L1214 962.8 L1221.9 930.4 L1229.7 952.2 L1237.2 928.5 L1244.9 949.7 L1252.6 958.5 L1260.1 900.1 L1268 903.6 L1275.4 932.9 L1282.9 938.3 L1290.4 925.4 L1298.3 962.4 L1306 943.7 L1314.1 944.1 L1321.6 942.5 L1329 928.5 L1336.9 958.5 L1344.6 944.7 L1352.1 927.5 L1359.6 931.3 L1367.7 955.3 L1375.1 956.2 L1382.6 954.1 L1390.1 946 L1398 938.3 L1405.7 952.2 L1413.2 960.9 L1420.9 923.6 L1428.7 942.9 L1436.2 945.4 L1444.3 937.9 L1451.8 933.5 L1459.3 924.5 L1466.8 962.2 L1474.9 929.8 L1481.8 931.3 L1490.5 940.7 L1498 932.5 L1505.5 924.8 L1513.3 914.2 L1521.1 934.1 L1528.5 934.5 L1536.6 940.7 L1544.1 932.3 L1551.6 917.9 L1559.7 903 L1567.2 894.9 L1574.9 904.2 L1582.4 949.1 L1589.8 919.5 L1597.7 949.1 L1605.5 929.8 L1613.3 935.4 L1620.8 903 L1628.2 922.3 L1635.7 947 L1643.2 922.3 L1651.9 907.1 L1659.4 922.9 L1666.9 898 L1675 916.1 L1682.4 927 L1690 904.9 L1697.5 938.1 L1705.2 901.2 L1712.5 900.2 L1720.1 885 L1728.5 934.1 L1735.8 926.8 L1751 894.3 L1759 924.8 L1766.3 936.1 L1774 873.7 L1781.6 887 L1789.1 906.2 L1797.1 870.4 L1804.1 871.7 L1812.1 904.2 L1820.7 916.8 L1835.6 833.5 L1843.3 855.8 L1851.3 900.2 L1858.6 898.2 L1866.5 872.8 L1873.8 906.9 L1881.8 896.9 L1889.5 926.8 L1897.1 843.1 L1904.8 899.6 L1912.6 867" fill="none" stroke="#111" stroke-width="1.35" stroke-linejoin="round" stroke-linecap="round"/>
<path d="M401.4 631.1L417 646.7M562.3 611.1L577.2 625.4M747.1 582.4L761.2 589.7M792.7 541.6L807.4 557.6M862 517.9L876.7 534.5M923 462.7L937.6 477.4M992.2 463.4L1007.1 471.7M1068.2 453.1L1053.9 460.5M1245.3 470.4L1230.4 486M1583.1 581.7L1597.4 589.1M1613.7 542.7L1628 557.1M1774.2 582.9L1758.9 598.7M499.9 967.1L485.6 974.2M569.5 969.9L554.6 985.5M738.6 1010.8L753.4 1017.2M845.9 995.4L860.9 1010.4M1060.4 888L1045.4 903M1114 909.2L1099 924.2M1305.7 908.9L1291 923.3M1651.7 889.3L1666.9 897.6M1705.9 876.3L1720.1 883.6M1759.7 865.1L1773.6 872.4" stroke="#333" stroke-width="1.1" fill="none"/>
<text x="469.9" y="286.9" font-size="25.3" class="s m">1.07</text>
<text x="692.6" y="298.9" font-size="25.3" class="s m">2.17</text>
<text x="758.5" y="287.4" font-size="25.3" class="s m">2.47</text>
<text x="887.7" y="263.5" font-size="25.3" class="s m">3.08</text>
<text x="1008.8" y="61.4" font-size="25.3" class="s m">3.67</text>
<text x="1181.1" y="223.1" font-size="25.3" class="s m">4.50</text>
<text x="1257.6" y="214.9" font-size="25.3" class="s m">4.87</text>
<text x="1437.6" y="308.2" font-size="25.3" class="s m">5.73</text>
<text x="392.4" y="626.8" font-size="25.3" class="s m">0.80</text>
<text x="447.2" y="631.1" font-size="25.3" class="s m">0.94</text>
<text x="554.2" y="607.1" font-size="25.3" class="s m">1.57</text>
<text x="624.9" y="616.7" font-size="25.3" class="s m">1.79</text>
<text x="721.8" y="585.3" font-size="25.3" class="s m">2.46</text>
<text x="783.7" y="536.5" font-size="25.3" class="s m">2.68</text>
<text x="853.3" y="513.4" font-size="25.3" class="s m">3.02</text>
<text x="912.7" y="458" font-size="25.3" class="s m">3.31</text>
<text x="967.5" y="467.4" font-size="25.3" class="s m">3.64</text>
<text x="1023.4" y="452.4" font-size="25.3" class="s m">3.72</text>
<text x="1093.8" y="456.8" font-size="25.3" class="s m">3.87</text>
<text x="1183.7" y="474.7" font-size="25.3" class="s m">4.50</text>
<text x="1254.1" y="466.2" font-size="25.3" class="s m">4.72</text>
<text x="1289.8" y="520.7" font-size="25.3" class="s m">5.01</text>
<text x="1353.5" y="556.1" font-size="25.3" class="s m">5.31</text>
<text x="1413.2" y="582" font-size="25.3" class="s m">5.61</text>
<text x="1506.2" y="584.2" font-size="25.3" class="s m">6.05</text>
<text x="1558.2" y="584.2" font-size="25.3" class="s m">6.49</text>
<text x="1604.2" y="536.8" font-size="25.3" class="s m">6.64</text>
<text x="1660.1" y="546.1" font-size="25.3" class="s m">6.79</text>
<text x="1714.7" y="580.8" font-size="25.3" class="s m">7.05</text>
<text x="1784.4" y="577.9" font-size="25.3" class="s m">7.27</text>
<text x="1850.3" y="596.3" font-size="25.3" class="s m">7.71</text>
<text x="332" y="1033.4" font-size="25.3" class="s m">0.37</text>
<text x="462.9" y="956.8" font-size="25.3" class="s m">1.00</text>
<text x="524.9" y="969.9" font-size="25.3" class="s m">1.11</text>
<text x="579.5" y="964.9" font-size="25.3" class="s m">1.44</text>
<text x="609" y="1013.5" font-size="25.3" class="s m">1.70</text>
<text x="713.7" y="1013.5" font-size="25.3" class="s m">2.40</text>
<text x="769.3" y="1000.8" font-size="25.3" class="s m">2.48</text>
<text x="837.2" y="990.4" font-size="25.3" class="s m">2.92</text>
<text x="892.4" y="965.5" font-size="25.3" class="s m">3.07</text>
<text x="946" y="963" font-size="25.3" class="s m">3.33</text>
<text x="1015.5" y="894.3" font-size="25.3" class="s m">3.66</text>
<text x="1069.1" y="883.1" font-size="25.3" class="s m">3.81</text>
<text x="1123.3" y="904.2" font-size="25.3" class="s m">4.07</text>
<text x="1183.8" y="905.9" font-size="25.3" class="s m">4.48</text>
<text x="1259.8" y="894.3" font-size="25.3" class="s m">4.85</text>
<text x="1315" y="903.6" font-size="25.3" class="s m">4.99</text>
<text x="1421.6" y="917.3" font-size="25.3" class="s m">5.62</text>
<text x="1513.9" y="908" font-size="25.3" class="s m">6.07</text>
<text x="1566.8" y="888.6" font-size="25.3" class="s m">6.33</text>
<text x="1625.7" y="892.4" font-size="25.3" class="s m">6.81</text>
<text x="1681.2" y="879" font-size="25.3" class="s m">7.07</text>
<text x="1734.5" y="867.7" font-size="25.3" class="s m">7.33</text>
<text x="1797.5" y="864.8" font-size="25.3" class="s m">7.44</text>
<text x="1837" y="827.2" font-size="25.3" class="s m">7.62</text>
<text x="0" y="0" font-size="27" class="s m" transform="translate(93.6 192.7) rotate(-90)">AU</text>
<text x="0" y="0" font-size="27" class="s m" transform="translate(242.2 582.7) rotate(-90)">%</text>
<text x="0" y="0" font-size="27" class="s m" transform="translate(245.8 957.7) rotate(-90)">%</text>
<text x="-0.5" y="33.8" font-size="50" class="b">A</text>
<text x="4.5" y="429.6" font-size="50" class="b">B</text>
<text x="3.2" y="800.3" font-size="52" class="b">C</text>
<text x="56.2" y="32.3" font-size="27.6" class="s">CT</text>
<text x="59.6" y="422.8" font-size="27" class="s">CT</text>
<text x="63.2" y="797.8" font-size="27" class="s">CT</text>
<text x="1984.8" y="32.3" font-size="27.6" class="s e">3: Diode Array</text>
<text x="1990.2" y="62.8" font-size="27.3" class="s e">Range: 4.342e+1</text>
<text x="1987.2" y="422.9" font-size="27.2" class="s e">1: Scan ES+</text>
<text x="1996.2" y="453.7" font-size="27.2" class="s e">TIC</text>
<text x="1996.2" y="485" font-size="27.6" class="s e">5.45e8</text>
<text x="1992.2" y="797.9" font-size="27.7" class="s e">2: Scan ES-</text>
<text x="1999.4" y="828.7" font-size="27.2" class="s e">TIC</text>
<text x="1999.4" y="860" font-size="27.4" class="s e">7.80e6</text>
<text x="1924.6" y="717.7" font-size="27.6" class="s">Time</text>
<rect x="63.7" y="950.2" width="15.2" height="15.3" fill="#000"/>
<g filter="url(#sh)"><path d="M922.4 17.1 L974.4 72.3 L969.6 76.8 L986.9 83.2 L981.6 65.6 L976.8 70.1 L924.8 14.9Z M692.8 192.1 L744.6 247.1 L739.8 251.6 L757.1 258 L751.8 240.4 L747 244.9 L695.2 189.9Z M814.1 155.4 L865.8 210.4 L861 214.9 L878.3 221.3 L873 203.7 L868.2 208.1 L816.5 153.2Z M1138.9 101.6 L1164.3 171.7 L1158.1 174 L1171.4 186.7 L1173.5 168.4 L1167.4 170.6 L1142.1 100.4Z M1320.6 102.5 L1274.6 164.5 L1269.3 160.6 L1266.1 178.7 L1282.5 170.3 L1277.3 166.4 L1323.2 104.5Z" fill="#c50008"/></g>
<text x="819.1" y="15" font-size="21.1" class="n">Quercetin</text>
<text x="716.4" y="147.4" font-size="21.1" class="n">Quercitrin</text>
<text x="593.6" y="183.3" font-size="21.1" class="n">Hyperoside</text>
<text x="1041.6" y="85.3" font-size="21.1" class="n">Pseudohypericin</text>
<text x="1327.3" y="90.9" font-size="21.1" class="n">Hypericin</text>
</svg>
</body></html>
